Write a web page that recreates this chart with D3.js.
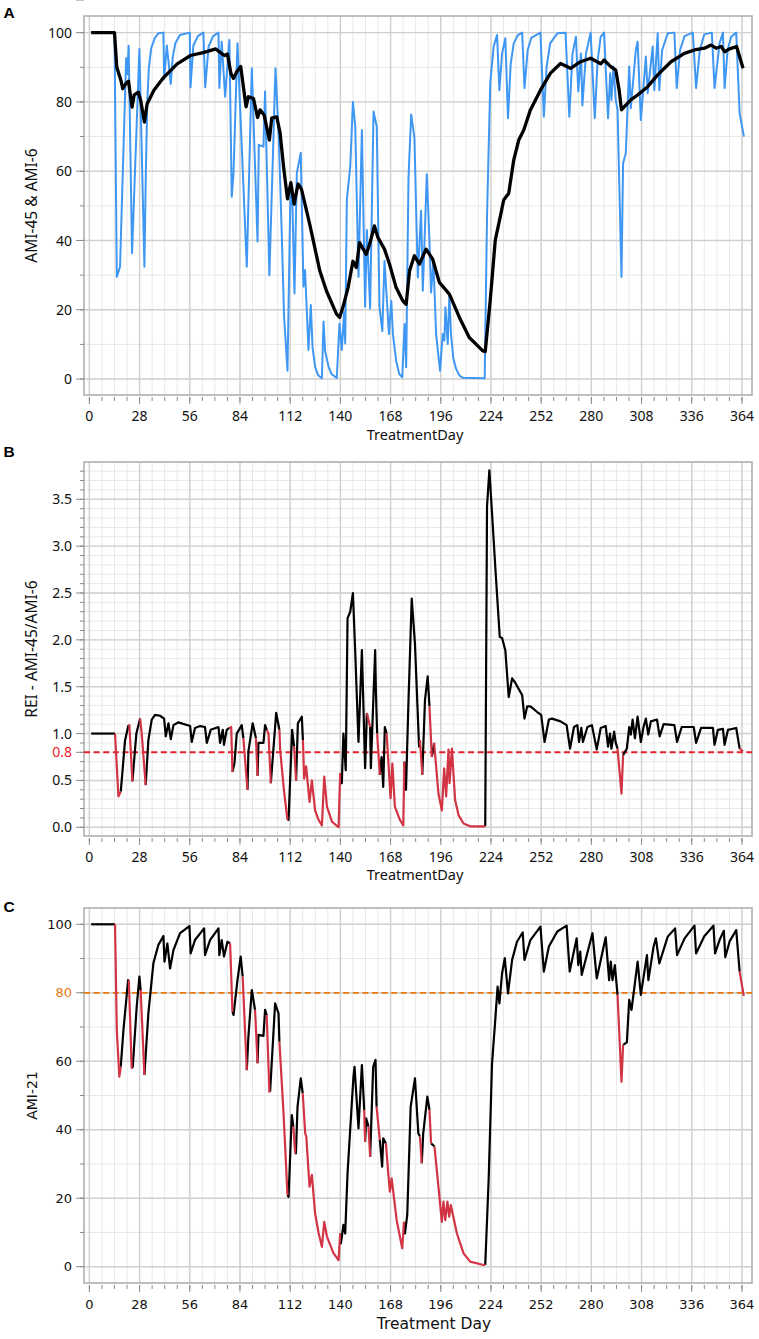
<!DOCTYPE html>
<html><head><meta charset="utf-8">
<script src="https://cdn.jsdelivr.net/npm/d3@7/dist/d3.min.js"></script>
<style>body{margin:0;background:#fff}</style>
</head><body>
<svg id="chart" width="759" height="1339"></svg>
<script>
// ---------------- DATA (day, value) ----------------
const ami45 = [[1,100],[14,100],[15.3,90],[17.6,86.2],[18.6,83.8],[20.5,85.4],[21.8,86],[23.8,78.5],[25,82],[27.3,82.8],[28.6,80.5],[30.7,74.2],[32.2,79.4],[35.9,83.3],[41.5,87.1],[49,91],[56.4,93.4],[64,94.3],[70.5,95.3],[72.9,94.3],[75.3,93.4],[77,93.8],[79,88.1],[80.4,86.8],[82.2,88.7],[84.4,90.2],[87.4,78.6],[88.7,81.5],[91.5,81],[93.8,75.5],[95.2,77.7],[97.5,76.2],[100.4,69],[101.7,75.3],[104.5,75.7],[106.4,71],[108.3,61.3],[110.5,52],[112.4,56.7],[114.2,50.5],[116.4,56.3],[118.3,54.8],[122.9,44.7],[128.5,31.3],[132.2,25.5],[137.8,18.8],[139.6,17.8],[141.4,20.7],[144.3,26.4],[147,34],[148.9,32.2],[150.7,39.4],[154.4,36],[156.3,38.9],[159,44.2],[160.9,40.9],[164.6,37.5],[167.4,33.2],[171.1,26.4],[174.8,22.6],[176.7,21.6],[178.6,31.3],[181.3,35.6],[184.1,33.2],[187.8,37.5],[191.5,34.6],[195.2,27.9],[200.8,24.5],[206.4,17.8],[211.9,12],[219.3,8.2],[220.8,7.9],[223.6,22.8],[226.4,40.1],[229.2,46.9],[231.1,51.7],[233.9,53.6],[236.7,63.2],[239.5,69],[242.3,71.9],[246,77.7],[251.6,83.4],[257.2,88.3],[262.8,91.1],[268.4,89.7],[274,91.6],[279.6,92.6],[285.2,91],[287.1,92.1],[290.8,90.2],[293.6,89.2],[295.5,83.4],[296.8,77.7],[299.2,79.1],[302,80.6],[305.8,82],[311.4,84.4],[317,87.8],[324.4,91.6],[331.9,94],[337.5,95],[343.1,95.5],[346.8,96.4],[349.6,95.5],[352.4,96],[354.3,94.5],[357.1,95.3],[361,96],[364.6,89.7]];

const ami6 = [[1,100],[14,100],[15.3,29.5],[17.1,32.4],[20.5,92.6],[21.2,88],[21.9,96.2],[23.8,36.3],[27.9,95.3],[30.7,32.4],[31.5,60],[32.3,80],[33.2,90],[34.5,95.5],[36.5,98.5],[38.5,99.8],[41.3,100],[41.7,86.7],[43.2,96.3],[45.4,85.2],[46.5,93],[48,97],[50.5,99.3],[56,100],[56.4,84.2],[58,96.3],[60.5,99],[63.6,100],[64.6,84.2],[66.5,96],[69,99],[72,100],[72.5,84],[73.8,97.4],[75.7,81.5],[78.1,97.9],[79.4,52.6],[80.4,59.4],[82.6,96.9],[87.8,32.4],[90.6,89.7],[93.8,39.7],[94.5,67.6],[97.1,67.1],[98,83],[100.4,30],[103.8,89.7],[105.7,69],[107.3,42],[108.6,18],[110.5,2.4],[112.2,55.5],[113.3,49.8],[114.4,24.7],[115.7,59.4],[117.9,65.3],[119.4,26.7],[120.3,31.5],[122.2,8.4],[123.5,21.4],[124.5,9],[125.9,3.6],[127.5,1.2],[129.7,0.2],[130.6,16.6],[131.5,8],[133.4,3.6],[135,1.5],[138,0.3],[139.5,16],[140.8,8.4],[142.1,19.4],[142.7,10.3],[143.6,51.7],[145.5,61.3],[147,80],[148.3,72.9],[150.1,29.5],[152,71.9],[153.8,20.9],[154.8,43],[156.6,20.4],[158.5,77.2],[160.3,72.9],[161.8,20.9],[163.4,13.9],[164.6,34.1],[167.1,13],[168.4,22.6],[169.3,13],[171.1,5.3],[172.8,1.5],[174.5,0.5],[175.8,15.9],[176.7,3.4],[178,58.2],[179.5,76.4],[181.3,69.7],[183.2,29.3],[185,48.6],[186,25.5],[188.2,59.1],[189.7,39.9],[190.6,25],[191.9,34.1],[193.4,13],[195.6,2.4],[197.1,13],[198,11.1],[198.6,20.7],[199.9,10.1],[200.8,24.5],[201.7,13],[203,6],[204.5,3],[206.5,1],[208.2,0.4],[220.5,0.2],[221.8,46.9],[223.6,85.4],[225.5,96],[227.4,99.3],[228.7,83.4],[230.2,94],[232,98.4],[233.5,75.3],[235,91],[236.7,96.9],[239,99.3],[241.4,100],[242.7,84],[244.5,95],[246.5,98.5],[251.6,100],[253.5,75.7],[255,90],[257,96.9],[261,99.8],[265.6,100],[267.7,75.7],[269.5,94],[271.4,98.8],[272.7,83],[274.2,94],[275,79],[277,94],[279.6,100],[281.9,75.3],[283.5,92],[285.2,98.8],[287.1,100],[289.3,75.3],[290.5,88.3],[291.2,80.6],[292.3,90.2],[293.6,80.6],[294.6,77.7],[296.8,29.5],[297.7,62.3],[299.2,65.2],[301.1,90.2],[302,78.2],[304.8,95],[305.8,97.4],[307.6,74.8],[310.4,93.1],[311.4,82.5],[314.2,96],[315.1,83.4],[317,99.8],[317.9,83.4],[319.5,95],[322.6,99.8],[326.3,100],[327.6,84],[329.5,95],[332,99],[336.6,100],[338.4,84],[340.5,95],[343,99.5],[347.2,100],[348.7,84],[351.5,96.9],[353.4,100],[354.3,84],[356,95],[358,98.8],[360.8,100],[362.7,76.7],[365.1,70]];

const rei = [[1,1],[14.3,1],[15.3,0.65],[16.2,0.33],[17.5,0.38],[18.4,0.58],[19.9,0.93],[21.8,1.09],[22.3,1.09],[24,0.49],[26.2,1.0],[28.3,1.16],[29.2,1.0],[31.4,0.45],[32.9,0.93],[34.8,1.15],[36.6,1.2],[39.4,1.19],[41.7,1.16],[42.6,0.97],[44.1,1.11],[45.4,0.94],[46.9,1.09],[49.7,1.12],[56.2,1.08],[57.1,0.91],[58.9,1.06],[61.8,1.08],[64.5,1.07],[65.5,0.9],[67.7,1.04],[72,1.07],[72.9,0.9],[74.4,1.04],[75.1,0.88],[76.6,1.04],[78.1,1.06],[79.1,1.07],[79.8,0.59],[80.9,0.68],[82.2,1.0],[85,1.09],[85.9,0.95],[88.2,0.4],[88.7,0.81],[91.1,1.11],[92.9,0.95],[93.8,0.55],[94.3,0.9],[97.1,0.9],[98,1.09],[99,1.04],[99.9,1.0],[101.2,0.47],[104.2,1.22],[106,1.04],[106.4,0.83],[108.5,0.4],[110.5,0.08],[111.1,0.08],[113.1,1.04],[114.2,0.86],[115.3,0.5],[116.3,1.11],[118.5,1.18],[119.1,0.93],[119.8,0.52],[120.9,0.65],[122.8,0.27],[124.1,0.5],[125.9,0.18],[127.8,0.08],[129.7,0.02],[131,0.54],[132.5,0.22],[135.3,0.06],[139,0.0],[139.9,0.58],[140.8,0.47],[141.7,1.0],[143,0.61],[144,2.23],[145.5,2.3],[147,2.5],[148.3,1.86],[150.1,0.91],[152,1.89],[153.8,0.63],[154.8,1.22],[156.6,1.07],[157,0.63],[159.4,1.89],[159.8,1.47],[160.5,1.0],[162,0.56],[163,0.75],[163.9,0.43],[164.8,1.07],[165.8,1.0],[168,0.31],[169,0.68],[170.4,0.22],[173.2,0.08],[175.1,0.02],[175.7,0.7],[176.6,0.4],[177.9,1.29],[179.8,2.44],[181.6,1.96],[183.9,0.86],[184.4,0.93],[185.7,0.56],[187.2,1.36],[188.7,1.61],[189.7,1.29],[191,0.75],[192.3,0.9],[194.7,0.36],[196.6,0.18],[197.9,0.63],[199,0.33],[200.3,0.83],[200.9,0.47],[202.2,0.84],[204,0.29],[205.9,0.13],[208.7,0.04],[212.4,0.01],[220.8,0.01],[221.8,3.42],[223.1,3.81],[224.6,3.35],[226.4,2.78],[228.9,2.03],[230.2,2.02],[232,1.89],[233.9,1.39],[235.8,1.59],[237.6,1.54],[241.4,1.41],[242.7,1.16],[244.2,1.29],[246,1.29],[249.8,1.23],[252,1.2],[253.9,0.91],[256.3,1.15],[258,1.16],[262.8,1.13],[266.2,1.09],[268.1,0.84],[270.3,1.07],[272.2,1.09],[273.1,0.91],[274.4,1.06],[275.3,0.91],[277.8,1.07],[280.3,1.09],[283,0.83],[285.2,1.06],[288,1.08],[289.3,0.86],[290.4,1.0],[291.2,0.84],[292.7,1.02],[293.6,0.9],[294.6,0.84],[296.8,0.36],[297.7,0.77],[298.3,0.79],[299.8,0.84],[301.1,1.07],[302,0.99],[303,1.15],[304.3,0.95],[305.8,1.18],[307.6,0.91],[309.1,1.07],[310.4,1.16],[311.7,0.99],[313.2,1.13],[316.6,1.15],[318.1,0.97],[320.3,1.1],[326.3,1.09],[327.8,0.91],[330.4,1.07],[337.1,1.07],[338.4,0.9],[341.2,1.06],[347.8,1.06],[348.7,0.88],[350.6,1.04],[353.4,1.05],[354.3,0.88],[356.2,1.04],[360.8,1.06],[362.7,0.84],[364.6,0.81]];

const ami21 = [[1,100],[14.3,100],[15.3,69],[16.7,55.5],[17.5,58.4],[19,69.1],[21.6,83.7],[22,83.7],[23.6,57.9],[24.2,58.4],[26.4,76],[27.9,84.7],[28.6,80.8],[30.7,56],[32.9,74],[35.7,88.6],[38.5,94],[41.3,96.6],[41.9,89.1],[43.5,94.4],[45,87.1],[46.9,92.5],[50.6,97.4],[55.8,99.5],[56.5,91.5],[58.9,95.4],[64,98.8],[64.5,91],[67.3,95.4],[72,98.8],[72.5,91],[73.8,95.4],[75.1,90.6],[77,94.9],[78.5,94.4],[79.8,74.5],[80.4,73.5],[82.6,83.7],[84.4,90.6],[85.5,84.7],[87.8,57.4],[88.7,67.2],[90.6,80.8],[92.4,75],[93.8,59.4],[94.3,67.7],[97.1,67.4],[98,75],[98.9,73.5],[100.4,51.1],[100.8,51.1],[103.6,76.9],[105.5,74],[106,65.7],[108.3,44.8],[110.5,20.9],[111.1,20.4],[112.9,44.3],[113.8,40.9],[114.8,33.1],[115.2,33.1],[116.1,46.7],[117.9,55],[119,50.6],[120.4,38.9],[121,38],[122.8,23.4],[124.1,26.8],[125.9,15.6],[127.8,10],[129.7,5.8],[131,13.1],[132.5,8.8],[136.2,3.9],[139,1.9],[139.9,9.7],[140.3,6.8],[141.7,12.2],[142.7,9.7],[144,27.3],[145.8,42.8],[147.3,55.5],[147.9,58.4],[150.1,40.4],[152,58.9],[153.3,45.8],[153.8,36.5],[154.4,43.3],[155.7,40.9],[156.6,32.1],[158.3,58.4],[159.6,60.4],[160.2,46.7],[162,37],[163.3,29.2],[163.9,37.5],[165.4,36],[166.7,27.3],[167.6,21.9],[168.6,25.8],[171.4,13.6],[174.5,5.4],[175.5,13.1],[176,9.7],[177.3,15.1],[179.2,46.7],[181.6,55],[183.5,38.9],[184.4,38],[185.4,30.2],[186.2,38.9],[188.5,49.7],[189.7,45.8],[190.6,36],[192.5,35.1],[194.7,23.4],[196.6,13.1],[197.5,19],[198.5,13.6],[199.7,19],[200.7,14.6],[201.6,18],[205,9.7],[208.7,3.9],[212.4,1.5],[219.9,0.5],[220.8,0.5],[222.7,25.3],[224.6,59.4],[226.4,72.1],[227.7,81.8],[228.7,76.9],[230.2,85.7],[231.7,90.1],[233.5,79.8],[235.8,89.6],[238.5,94.9],[241.7,97.6],[242.7,89.6],[246,95.4],[251.6,99.3],[253.5,86.2],[256.3,93.5],[261,97.9],[266.2,99.6],[267.9,86.2],[271.8,95.9],[272.7,88.1],[273.8,92],[274.6,85.2],[280.6,97.4],[283,84.2],[288,96.2],[289.9,83.7],[290.8,89.1],[291.8,83.7],[293.1,88.1],[294.6,79.4],[296.8,54],[297.7,64.8],[299.8,65.5],[301.1,77.9],[302.4,75],[305.8,89.1],[307.6,79.4],[311,91],[311.8,83.7],[314.7,93.5],[316,95.9],[317.9,88.6],[322.6,96.4],[326.7,98.8],[327.8,91],[332,95.9],[337.5,99.6],[338.4,91.5],[343,96.5],[348.1,99.6],[349,91.5],[351.5,95.4],[353.9,98.1],[354.7,90.4],[357.1,95],[360.8,98.3],[362.7,86.2],[365,79.1]];

// day ranges flagged (drawn in red in panels B and C)
const alertIntervals = [[14.3,17.5],[22,23.6],[28.6,30.7],[78.5,79.8],[85.5,87.8],[92.4,93.8],[98.9,100.9],[106,110.5],[113.8,114.8],[119,139.9],[153.3,153.8],[155.7,156.6],[160.2,162],[165.4,175.5],[184.4,185.4],[189.7,190.6],[192.5,220.8],[294.6,297.7],[362.7,365]];

const xTickLabels = [0,28,56,84,112,140,168,196,224,252,280,308,336,364];
const yTicksA = [0,20,40,60,80,100];
const yTicksB = [0,0.5,1,1.5,2,2.5,3,3.5];
const yTicksC = [0,20,40,60,100];
const reiThreshold = 0.8;
const ami21Threshold = 80;

// ---------------- DRAW ----------------
const svg = d3.select('#chart');
const L = 84, R = 752;
const x = d3.scaleLinear().domain([-3, 369.6]).range([L, R]);
const xMinor = d3.range(0, 365, 7);
const RED = '#d23444', BLUE = '#3f97f4';

function panel(o){
  const y = d3.scaleLinear().domain(o.yDomain).range([o.bottom, o.top]);
  const g = svg.append('g');
  const clipId = 'clip' + o.letter;
  svg.append('clipPath').attr('id', clipId).append('rect')
    .attr('x', L).attr('y', o.top).attr('width', R-L).attr('height', o.bottom-o.top);
  const yMin = d3.range(Math.ceil(o.yDomain[0]/o.minorStep), Math.floor(o.yDomain[1]/o.minorStep)+1).map(k=>+(k*o.minorStep).toFixed(4));
  const yMaj = d3.range(0, o.yDomain[1], o.majorStep).map(v=>+v.toFixed(4));
  g.selectAll('.vmin').data(xMinor).join('line').attr('x1',d=>x(d)).attr('x2',d=>x(d))
    .attr('y1',o.top).attr('y2',o.bottom).attr('stroke','#e8e8e8').attr('stroke-width',1);
  g.selectAll('.hmin').data(yMin).join('line').attr('y1',d=>y(d)).attr('y2',d=>y(d))
    .attr('x1',L).attr('x2',R).attr('stroke','#e8e8e8').attr('stroke-width',1);
  g.selectAll('.vmaj').data(xTickLabels).join('line').attr('x1',d=>x(d)).attr('x2',d=>x(d))
    .attr('y1',o.top).attr('y2',o.bottom).attr('stroke','#d0d0d0').attr('stroke-width',1.4);
  g.selectAll('.hmaj').data(yMaj).join('line').attr('y1',d=>y(d)).attr('y2',d=>y(d))
    .attr('x1',L).attr('x2',R).attr('stroke','#d0d0d0').attr('stroke-width',1.4);
  g.append('rect').attr('x',L).attr('y',o.top).attr('width',R-L).attr('height',o.bottom-o.top)
    .attr('fill','none').attr('stroke','#b0b0b0').attr('stroke-width',1.6);
  g.selectAll('.ytm').data(yMin).join('line').attr('x1',L-4).attr('x2',L).attr('y1',d=>y(d)).attr('y2',d=>y(d))
    .attr('stroke','#8a8a8a').attr('stroke-width',1);
  g.selectAll('.ytM').data(o.yLabels.concat([o.threshold])).join('line').attr('x1',L-8).attr('x2',L).attr('y1',d=>y(d)).attr('y2',d=>y(d))
    .attr('stroke','#8a8a8a').attr('stroke-width',1);
  g.selectAll('.ylab').data(o.yLabels).join('text').attr('x',72).attr('y',d=>y(d))
    .attr('dy','0.36em').attr('text-anchor','end').attr('font-family',o.font).attr('font-size',o.tickSize)
    .attr('fill','#111').text(o.fmt);
  const xb = o.bottom + 2;
  g.selectAll('.xtm').data(xMinor).join('line').attr('x1',d=>x(d)).attr('x2',d=>x(d)).attr('y1',xb).attr('y2',xb+4)
    .attr('stroke','#8a8a8a').attr('stroke-width',1);
  g.selectAll('.xtM').data(xTickLabels).join('line').attr('x1',d=>x(d)).attr('x2',d=>x(d)).attr('y1',xb).attr('y2',xb+7)
    .attr('stroke','#8a8a8a').attr('stroke-width',1);
  g.selectAll('.xlab').data(xTickLabels).join('text').attr('x',d=>x(d)).attr('y',o.bottom+26)
    .attr('text-anchor','middle').attr('font-family',o.font).attr('font-size',o.tickSize).attr('fill','#111').text(d=>d);
  g.append('text').attr('x',o.xTitleX).attr('y',o.bottom+o.xTitleDy).attr('text-anchor','middle')
    .attr('font-family',o.font).attr('font-size',o.xTitleSize).attr('fill','#111').text(o.xTitle);
  g.append('text').attr('transform',`translate(37,${(o.top+o.bottom)/2}) rotate(-90)`).attr('text-anchor','middle')
    .attr('font-family',o.font).attr('font-size',o.yTitleSize).attr('fill','#111').text(o.yTitle);
  g.append('text').attr('x',3.5).attr('y',o.letterY).attr('font-family','Liberation Sans, Arial, sans-serif')
    .attr('font-weight','bold').attr('font-size',15.5).attr('fill','#000').text(o.letter);
  if (o.threshold != null){
    g.append('line').attr('x1',L).attr('x2',R).attr('y1',y(o.threshold)).attr('y2',y(o.threshold))
      .attr('stroke',o.thColor).attr('stroke-width',o.thWidth).attr('stroke-dasharray','6,3.6');
    g.append('text').attr('x',72).attr('y',y(o.threshold)).attr('dy','0.36em').attr('text-anchor','end')
      .attr('font-family',o.font).attr('font-size',o.tickSize).attr('fill',o.thColor).text(o.fmt(o.threshold));
  }
  const line = d3.line().x(d=>x(d[0])).y(d=>y(d[1]));
  const lg = svg.append('g').attr('clip-path',`url(#${clipId})`);
  o.series.forEach(s=>{
    if (!s.flag){
      lg.append('path').attr('d',line(s.data)).attr('fill','none').attr('stroke',s.color)
        .attr('stroke-width',s.width).attr('stroke-linejoin','round');
    } else {
      const runs=[];
      for(let i=0;i<s.data.length-1;i++){
        const mid=(s.data[i][0]+s.data[i+1][0])/2;
        const red=alertIntervals.some(([a,b])=>mid>=a&&mid<=b);
        if(runs.length && runs[runs.length-1].red===red) runs[runs.length-1].pts.push(s.data[i+1]);
        else runs.push({red, pts:[s.data[i], s.data[i+1]]});
      }
      runs.sort((a,b)=>a.red-b.red).forEach(r=>{
        lg.append('path').attr('d',line(r.pts)).attr('fill','none').attr('stroke',r.red?RED:s.color)
          .attr('stroke-width',s.width).attr('stroke-linejoin','round');
      });
    }
  });
}

const nf = "'Noto Sans', 'Open Sans', sans-serif";
const df = "'DejaVu Sans', Verdana, sans-serif";

panel({letter:'A', letterY:18, top:16, bottom:395, yDomain:[-4.6,104.8], majorStep:20, minorStep:10,
  yLabels:yTicksA, fmt:d3.format('d'), font:nf, tickSize:14, xTitleSize:14.5, yTitleSize:15.5,
  xTitle:'TreatmentDay', xTitleX:415, xTitleDy:45, yTitle:'AMI-45 & AMI-6', threshold:null,
  series:[{data:ami6,color:BLUE,width:2},{data:ami45,color:'#000',width:3.3}]});

panel({letter:'B', letterY:457, top:462, bottom:836, yDomain:[-0.093,3.898], majorStep:0.5, minorStep:0.1,
  yLabels:yTicksB, fmt:d3.format('.1f'), font:nf, tickSize:14, xTitleSize:14.5, yTitleSize:15.5,
  xTitle:'TreatmentDay', xTitleX:415, xTitleDy:44, yTitle:'REI - AMI-45/AMI-6',
  threshold:reiThreshold, thColor:'#e8202a', thWidth:2,
  series:[{data:rei,color:'#000',width:2.2,flag:true}]});

panel({letter:'C', letterY:912, top:908, bottom:1283, yDomain:[-4.76,104.76], majorStep:20, minorStep:10,
  yLabels:yTicksC, fmt:d3.format('d'), font:df, tickSize:13, xTitleSize:15.5, yTitleSize:14,
  xTitle:'Treatment Day', xTitleX:434, xTitleDy:46, yTitle:'AMI-21',
  threshold:ami21Threshold, thColor:'#e8780f', thWidth:1.8,
  series:[{data:ami21,color:'#000',width:2.2,flag:true}]});
</script>
</body></html>
